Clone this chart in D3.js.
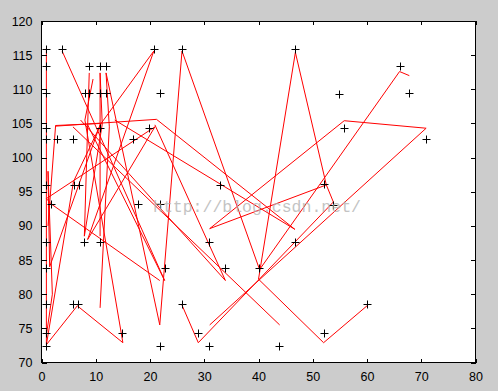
<!DOCTYPE html>
<html><head><meta charset="utf-8">
<script src="https://cdn.jsdelivr.net/npm/d3@7"></script>
<style>
html,body{margin:0;padding:0;background:#cccccc;}
svg{display:block;}
</style></head>
<body>
<svg id="c" width="498" height="391"></svg>
<script>
// ---- data ----
const xTicks = [0,10,20,30,40,50,60,70,80];
const yTicks = [70,75,80,85,90,95,100,105,110,115,120];
// city markers (x, y)
const cityX = [0.9,3.8,20.7,25.9,46.8, 0.9,8.8,10.8,11.9,66.0, 0.9,8.0,8.8,10.8,11.9,21.9,54.9,67.8,
  0.9,10.8,19.9,55.8, 0.9,2.9,5.8,16.9,70.9, 0.9,5.9,6.9,32.9,52.0, 1.8,17.8,21.8,53.8,
  0.9,7.9,10.8,30.9,46.7, 0.9,22.7,33.9,40.0, 0.9,5.8,6.8,25.9,60.0, 0.9,14.9,28.9,52.0, 0.9,21.8,30.9,43.8];
const cityY = [115.9,115.9,115.9,115.9,115.9, 113.4,113.4,113.4,113.4,113.4, 109.4,109.4,109.4,109.4,109.4,109.4,109.3,109.4,
  104.3,104.3,104.3,104.3, 102.7,102.7,102.7,102.7,102.7, 96.0,96.0,96.0,96.0,96.2, 93.2,93.2,93.2,93.0,
  87.7,87.7,87.7,87.7,87.7, 83.8,83.8,83.8,83.8, 78.6,78.6,78.6,78.6,78.6, 74.3,74.3,74.3,74.3, 72.4,72.4,72.4,72.4];
// route pieces (red lines); null separates pieces
const routeX = [60.0,52.0,40.0,46.8,52.5,31.0,55.8,70.9,31.0, null,
  67.8,66.0,40.2,25.9,21.8,11.9,12.5,10.8, null,
  25.9,28.9,53.8,52.5, null,
  0.9,0.9,6.6,15.0,8.0,9.5, null,
  3.8,22.7,8.5, null,
  5.8,43.9, null,
  7.2,33.9,20.9, null,
  2.5,21.2,46.7,13.5, null,
  8.8,7.9,11.2,10.8,10.8, null,
  20.7,10.8,1.5,1.2,2.0,0.9, null,
  20.7,8.5,20.9,0.9,1.8,21.8, null,
  0.9,5.9,11.0,2.6,1.2];
const routeY = [78.3,72.9,82.2,115.4,96.0,89.6,105.4,104.3,75.5, null,
  112.0,112.6,83.6,115.6,75.5,112.4,104.5,78.0, null,
  78.4,72.9,93.5,96.0, null,
  116.0,72.6,78.3,72.9,105.5,111.5, null,
  115.6,82.0,104.8, null,
  104.5,75.5, null,
  105.5,82.0,104.8, null,
  104.6,105.6,89.5,105.5, null,
  112.4,88.5,104.9,112.4,88.5, null,
  115.6,104.8,84.0,98.0,80.0,74.0, null,
  115.6,88.0,104.5,94.0,93.2,82.0, null,
  72.6,96.5,105.0,104.7,90.0];
const watermark = "http://blog.csdn.net/";

// ---- layout ----
const svg = d3.select("#c");
const L = 41.5, R = 475.5, T = 21, B = 362.5;
const x = d3.scaleLinear().domain([0,80]).range([L,R]);
const y = d3.scaleLinear().domain([70,120]).range([B,T]);

svg.append("rect").attr("x",0).attr("y",0).attr("width",498).attr("height",391).attr("fill","#cccccc");
svg.append("rect").attr("x",L).attr("y",T).attr("width",R-L).attr("height",B-T).attr("fill","#ffffff");

const pts = routeX.map((v,i)=>[v,routeY[i]]);
const line = d3.line().defined(d=>d[0]!==null && d[1]!==null).x(d=>x(d[0])).y(d=>y(d[1]));
svg.append("path").attr("d",line(pts)).attr("fill","none").attr("stroke","#ff0000").attr("stroke-width",1);

// markers
const mk = svg.append("g");
cityX.forEach((cx,i)=>{
  const px = Math.round(x(cx))+0.5, py = Math.round(y(cityY[i]))+0.5;
  mk.append("path").attr("d",`M${px-4},${py}H${px+4}M${px},${py-4}V${py+4}`)
    .attr("stroke","#000").attr("stroke-width",1).attr("fill","none");
});

// axes
const font = "Arial, 'Liberation Sans', Helvetica, sans-serif";
const ax = svg.append("g").attr("transform",`translate(0,${B})`)
  .call(d3.axisBottom(x).tickValues(xTicks).tickSizeInner(-4).tickSizeOuter(0).tickPadding(10));
const axT = svg.append("g").attr("transform",`translate(0,${T})`)
  .call(d3.axisTop(x).tickValues(xTicks).tickSizeInner(-4).tickSizeOuter(0).tickFormat(""));
const ay = svg.append("g").attr("transform",`translate(${L},0)`)
  .call(d3.axisLeft(y).tickValues(yTicks).tickSizeInner(-5).tickSizeOuter(0).tickPadding(9));
const ayR = svg.append("g").attr("transform",`translate(${R},0)`)
  .call(d3.axisRight(y).tickValues(yTicks).tickSizeInner(-5).tickSizeOuter(0).tickFormat(""));
[ax,axT,ay,ayR].forEach(g=>{
  g.select(".domain").remove();
  g.selectAll("line").attr("stroke","#000").attr("shape-rendering","crispEdges");
  g.selectAll("text").attr("fill","#000").style("font-family",font).style("font-size","12.5px");
});
svg.append("rect").attr("x",L).attr("y",T).attr("width",R-L).attr("height",B-T)
  .attr("fill","none").attr("stroke","#000").attr("stroke-width",1).attr("shape-rendering","crispEdges");

svg.append("text").attr("x",153).attr("y",212).text(watermark)
  .style("font-family","'Liberation Mono','DejaVu Sans Mono',monospace").style("font-size","16.5px")
  .attr("fill","#b0b0b0").attr("opacity",0.75);
</script>
</body></html>
